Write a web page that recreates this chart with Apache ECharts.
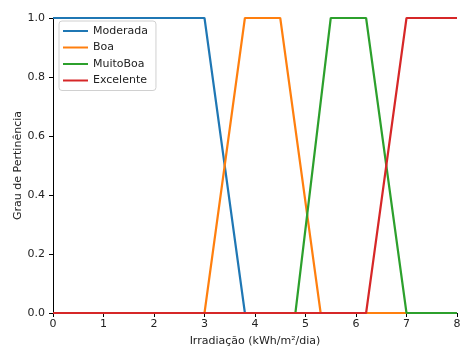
<!DOCTYPE html>
<html><head><meta charset="utf-8">
<script src="https://cdn.jsdelivr.net/npm/echarts@6/dist/echarts.min.js"></script>
<style>html,body{margin:0;padding:0;background:#fff}#c{width:461px;height:347px}</style>
</head><body><div id="c"></div>
<script>
const seriesNames = ['Moderada', 'Boa', 'MuitoBoa', 'Excelente'];
const colors = ['#1f77b4', '#ff7f0e', '#2ca02c', '#d62728'];
const xModerada = [0, 3, 3.8, 8];
const yModerada = [1, 1, 0, 0];
const xBoa = [0, 3, 3.8, 4.5, 5.3, 8];
const yBoa = [0, 0, 1, 1, 0, 0];
const xMuitoBoa = [0, 4.8, 5.5, 6.2, 7, 8];
const yMuitoBoa = [0, 0, 1, 1, 0, 0];
const xExcelente = [0, 6.2, 7, 8];
const yExcelente = [0, 0, 1, 1];
const xTicks = [0, 1, 2, 3, 4, 5, 6, 7, 8];
const yTicks = [0.0, 0.2, 0.4, 0.6, 0.8, 1.0];

const xs = [xModerada, xBoa, xMuitoBoa, xExcelente];
const ys = [yModerada, yBoa, yMuitoBoa, yExcelente];
const font = 'DejaVu Sans';
const chart = echarts.init(document.getElementById('c'), null, {renderer: 'canvas'});
chart.setOption({
  animation: false,
  grid: {left: 53, right: 4, top: 18, bottom: 34, containLabel: false, outerBoundsMode: 'none'},
  legend: {
    orient: 'vertical', left: 59, top: 21,
    data: seriesNames.map(n => ({name: n, icon: 'rect'})),
    itemWidth: 25, itemHeight: 2, itemGap: 4.5,
    backgroundColor: 'rgba(255,255,255,0.8)', borderColor: '#d0d0d0', borderWidth: 1, borderRadius: 3,
    padding: [4, 8, 4, 4],
    textStyle: {fontFamily: font, fontSize: 11, color: '#222', lineHeight: 12}
  },
  xAxis: {
    type: 'value', min: 0, max: 8, interval: 1,
    name: 'Irradiação (kWh/m²/dia)', nameLocation: 'middle', nameGap: 23, nameMoveOverlap: false,
    nameTextStyle: {fontFamily: font, fontSize: 11, color: '#222'},
    axisLine: {show: true, onZero: false, lineStyle: {color: '#000', width: 1}},
    axisTick: {show: true, length: 4, lineStyle: {color: '#000'}},
    axisLabel: {fontFamily: font, fontSize: 11, color: '#222', margin: 6,
      formatter: v => xTicks.includes(v) ? String(v) : ''},
    splitLine: {show: false}
  },
  yAxis: {
    type: 'value', min: 0, max: 1, interval: 0.2,
    name: 'Grau de Pertinência', nameLocation: 'middle', nameGap: 29, nameMoveOverlap: false,
    nameTextStyle: {fontFamily: font, fontSize: 11, color: '#222'},
    axisLine: {show: true, lineStyle: {color: '#000', width: 1}},
    axisTick: {show: true, length: 4, lineStyle: {color: '#000'}},
    axisLabel: {fontFamily: font, fontSize: 11, color: '#222', margin: 8,
      formatter: v => v.toFixed(1)},
    splitLine: {show: false}
  },
  series: seriesNames.map((n, i) => ({
    name: n, type: 'line', showSymbol: false, symbol: 'none',
    data: xs[i].map((x, j) => [x, ys[i][j]]),
    lineStyle: {color: colors[i], width: 2.2},
    itemStyle: {color: colors[i]},
    clip: false
  }))
});
</script></body></html>
